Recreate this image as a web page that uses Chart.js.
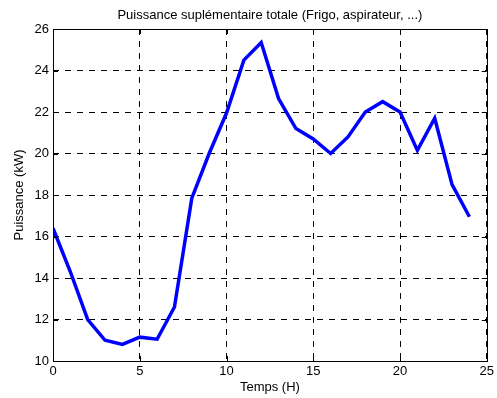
<!DOCTYPE html>
<html>
<head>
<meta charset="utf-8">
<script src="https://cdn.jsdelivr.net/npm/chart.js@4/dist/chart.umd.min.js"></script>
<style>
  html, body { margin: 0; padding: 0; background: #fff; }
  #wrap { width: 497px; height: 398px; }
</style>
</head>
<body>
<div id="wrap"><canvas id="myChart"></canvas></div>
<script>
// données
const heures = [0, 1, 2, 3, 4, 5, 6, 7, 8, 9, 10, 11, 12, 13, 14, 15, 16, 17, 18, 19, 20, 21, 22, 23, 24];
const puissance = [16.4, 14.3, 12.0, 11.0, 10.8, 11.15, 11.05, 12.6, 17.85, 20.0, 21.95, 24.5, 25.35,
                   22.65, 21.2, 20.7, 20.0, 20.8, 22.0, 22.5, 22.0, 20.15, 21.7, 18.5, 16.95];
const xTicks = [0, 5, 10, 15, 20, 25];
const yTicks = [10, 12, 14, 16, 18, 20, 22, 24, 26];
const titre = 'Puissance suplémentaire totale (Frigo, aspirateur, ...)';

const police = { family: '"Liberation Sans", Arial, sans-serif', size: 13 };

// cadre + petites graduations vers l'intérieur (style matlab) + titre centré sur les axes
const cadrePlugin = {
    id: 'cadre',
    afterDraw(chart) {
        const { ctx, chartArea: a, scales } = chart;
        ctx.save();
        ctx.strokeStyle = '#000';
        ctx.lineWidth = 1;
        ctx.setLineDash([]);
        ctx.beginPath();
        xTicks.forEach(v => {
            const px = Math.round(scales.x.getPixelForValue(v)) + 0.5;
            ctx.moveTo(px, a.bottom); ctx.lineTo(px, a.bottom - 5);
            ctx.moveTo(px, a.top); ctx.lineTo(px, a.top + 5);
        });
        yTicks.forEach(v => {
            const py = Math.round(scales.y.getPixelForValue(v)) + 0.5;
            ctx.moveTo(a.left, py); ctx.lineTo(a.left + 5, py);
            ctx.moveTo(a.right, py); ctx.lineTo(a.right - 5, py);
        });
        ctx.stroke();
        ctx.strokeRect(Math.round(a.left) + 0.5, Math.round(a.top) + 0.5,
                       Math.round(a.right - a.left), Math.round(a.bottom - a.top));

        ctx.fillStyle = '#000';
        ctx.font = police.size + 'px ' + police.family;
        ctx.textAlign = 'center';
        ctx.textBaseline = 'middle';
        ctx.fillText(titre, (a.left + a.right) / 2, 15);
        ctx.restore();
    }
};

const ctx = document.getElementById('myChart').getContext('2d');
const myChart = new Chart(ctx, {
    type: 'line',
    data: {
        datasets: [{
            data: heures.map((h, i) => ({ x: h, y: puissance[i] })),
            borderColor: '#0000ff',
            borderWidth: 3.5,
            pointRadius: 0,
            tension: 0,
            fill: false
        }]
    },
    options: {
        responsive: true,
        maintainAspectRatio: false,
        animation: false,
        layout: { padding: { left: 0, right: 8, top: 29, bottom: 0 } },
        plugins: {
            legend: { display: false },
            tooltip: { enabled: false },
            title: { display: false }
        },
        scales: {
            x: {
                type: 'linear',
                min: 0, max: 25,
                afterFit(scale) { scale.height = 37; },
                afterBuildTicks(scale) { scale.ticks = xTicks.map(v => ({ value: v })); },
                ticks: { color: '#000', font: police, padding: 3, maxRotation: 0 },
                grid: { color: '#000', lineWidth: 1, drawTicks: false },
                border: { display: false, dash: [6, 6] },
                title: { display: true, text: 'Temps (H)', color: '#000', font: police, padding: { top: 2, bottom: 3 } }
            },
            y: {
                min: 10, max: 26,
                afterFit(scale) { scale.width = 53; },
                afterBuildTicks(scale) { scale.ticks = yTicks.map(v => ({ value: v })); },
                ticks: { color: '#000', font: police, padding: 4 },
                grid: { color: '#000', lineWidth: 1, drawTicks: false },
                border: { display: false, dash: [6, 6] },
                title: { display: true, text: 'Puissance (kW)', color: '#000', font: police, padding: { top: 12, bottom: 2 } }
            }
        }
    },
    plugins: [cadrePlugin]
});
</script>
</body>
</html>
